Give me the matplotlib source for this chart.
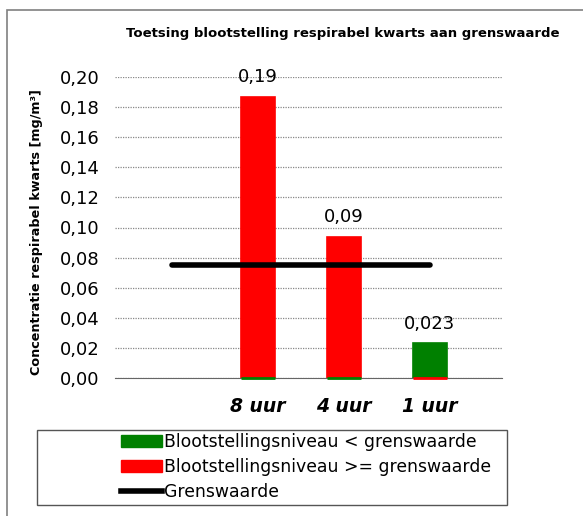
import matplotlib
matplotlib.use("Agg")
import matplotlib.pyplot as plt
from matplotlib.patches import Rectangle, Patch
from matplotlib.lines import Line2D
from matplotlib.ticker import FuncFormatter

# data
categories = ["8 uur", "4 uur", "1 uur"]
below_limit = [0.0, 0.0, 0.023]      # groen
above_limit = [0.187, 0.094, 0.0]    # rood
value_labels = ["0,19", "0,09", "0,023"]
limit_value = 0.075
limit_x = [-1, 2]

fig = plt.figure(figsize=(5.83, 5.16), dpi=100)

# grijze kader om de grafiek
fig.patches.append(Rectangle((7 / 583, -0.05), 1.1, 1 - 10 / 516 + 0.05,
                             transform=fig.transFigure, fill=False,
                             edgecolor="#808080", linewidth=1.2))

ax = fig.add_axes([115 / 583, 1 - 378 / 516, 387 / 583, 301 / 516])

x = list(range(len(categories)))
red = ax.bar(x, above_limit, width=0.4, color="#ff0000", edgecolor="#ff0000",
             linewidth=1.2, zorder=3)
green = ax.bar(x, below_limit, width=0.4, color="#008000", edgecolor="#008000",
               linewidth=1.2, zorder=3)
# lege balken (hoogte 0) als streepje onderaan zichtbaar houden
for p in list(red) + list(green):
    if p.get_height() == 0:
        p.set_zorder(5)
        p.set_linewidth(2)
        p.set_clip_on(False)
ax.plot(limit_x, [limit_value, limit_value], color="black", linewidth=4,
        solid_capstyle="round", zorder=4)

for xi, g, r, lab in zip(x, below_limit, above_limit, value_labels):
    ax.text(xi, max(g, r) + 0.007, lab, ha="center", va="bottom", fontsize=13)

ax.set_xlim(-1.66, 2.84)
ax.set_ylim(0, 0.20)
ax.set_yticks([i * 0.02 for i in range(11)])
ax.yaxis.set_major_formatter(FuncFormatter(lambda v, p: f"{v:.2f}".replace(".", ",")))
ax.set_xticks(x)
ax.set_xticklabels(categories, fontsize=13.5, fontweight="bold", style="italic")
ax.tick_params(axis="y", labelsize=13, length=0, pad=11)
ax.tick_params(axis="x", length=0, pad=14)
ax.grid(axis="y", color="#888888", linestyle=(0, (1, 1)), linewidth=0.9, zorder=0)
for s in ["top", "right", "left"]:
    ax.spines[s].set_visible(False)
ax.spines["bottom"].set_color("#666666")
ax.spines["bottom"].set_zorder(2)

fig.text(343 / 583, 1 - 33 / 516, "Toetsing blootstelling respirabel kwarts aan grenswaarde",
         ha="center", va="center", fontsize=9.5, fontweight="bold")
fig.text(37 / 583, 1 - 232 / 516, "Concentratie respirabel kwarts [mg/m³]",
         ha="center", va="center", rotation=90, fontsize=9.2, fontweight="bold")

# legenda
fig.patches.append(Rectangle((37 / 583, 1 - 505 / 516), 470 / 583, 75 / 516,
                             transform=fig.transFigure, fill=False,
                             edgecolor="#555555", linewidth=1))
handles = [Patch(color="#008000"), Patch(color="#ff0000"),
           Line2D([], [], color="black", linewidth=4)]
labels = ["Blootstellingsniveau < grenswaarde",
          "Blootstellingsniveau >= grenswaarde", "Grenswaarde"]
fig.legend(handles, labels, loc="center left",
           bbox_to_anchor=(112 / 583, 1 - 467 / 516), frameon=False,
           fontsize=12.4, handlelength=2.4, handleheight=0.7, handletextpad=0.1,
           labelspacing=0.42, borderpad=0)

fig.savefig("out.png", dpi=100)
